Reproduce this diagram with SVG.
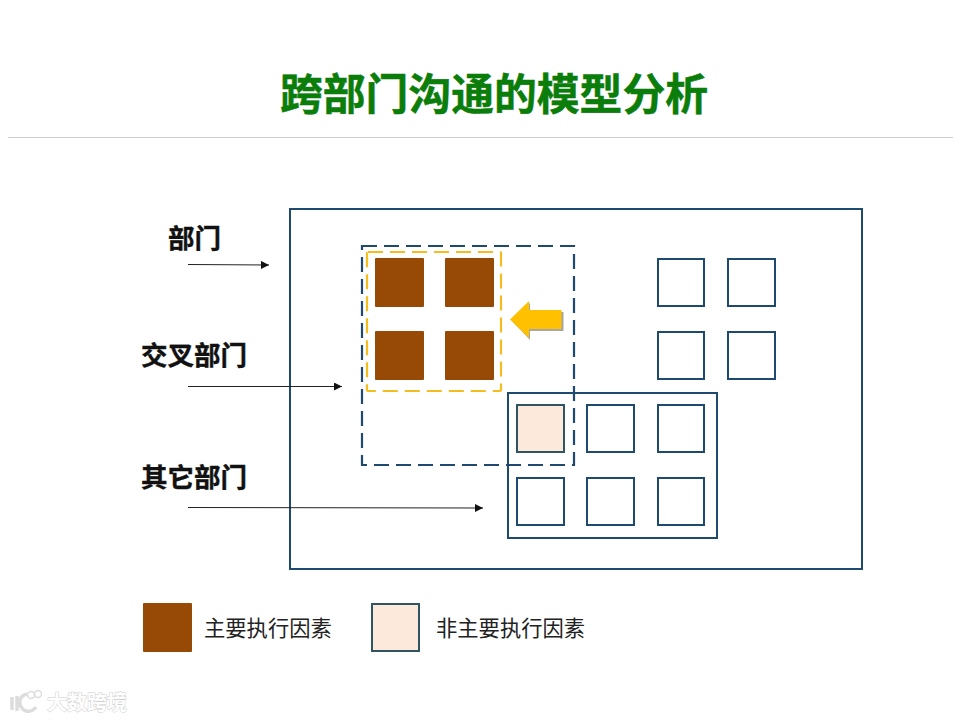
<svg xmlns="http://www.w3.org/2000/svg" width="960" height="720" viewBox="0 0 960 720">
<defs>
<marker id="ah" markerUnits="userSpaceOnUse" markerWidth="9" markerHeight="8" refX="8" refY="4" orient="auto"><path d="M0 0L8 4L0 8Z" fill="#111"/></marker>
</defs>
<style>
text{font-family:"Noto Sans CJK SC","Liberation Sans",sans-serif}
.lbl{font-size:26.500px;font-weight:700;fill:#111;stroke:#111;stroke-width:.4}
.leg{font-size:21.300px;fill:#222}
.box{fill:#fff;stroke:#1F4A70;stroke-width:2}
.main{fill:#974A06}
.minor{fill:#FCE9DB;stroke:#2F5560;stroke-width:2}
.frame{fill:none;stroke:#1F4A70;stroke-width:2}
.conn{fill:none;stroke:#222;stroke-width:1;marker-end:url(#ah)}
</style>
<rect width="960" height="720" fill="#fff"/>
<text id="title" x="494" y="110" text-anchor="middle" font-size="42.800" font-weight="700" fill="#0A7D0A" stroke="#0A7D0A" stroke-width=".5">跨部门沟通的模型分析</text>
<line x1="8" y1="137.500" x2="953" y2="137.500" stroke="#CFCFCF" stroke-width="1"/>

<g id="dept-frame"><rect class="frame" x="290" y="209" width="572" height="360"/></g>

<g id="labels">
<text class="lbl" x="168" y="248">部门</text>
<text class="lbl" x="141" y="365">交叉部门</text>
<text class="lbl" x="141" y="487">其它部门</text>
</g>

<g id="connectors">
<line class="conn" x1="188" y1="264.500" x2="269" y2="265"/>
<line class="conn" x1="188" y1="386.500" x2="342" y2="386.500"/>
<line class="conn" x1="188" y1="507.500" x2="483" y2="508"/>
</g>

<g id="other-dept"><rect class="frame" x="508" y="393" width="209" height="145"/></g>

<g id="main-nodes">
<rect id="m1" class="main" x="375" y="258" width="49" height="49" rx="1"/>
<rect id="m2" class="main" x="445" y="258" width="49" height="49" rx="1"/>
<rect id="m3" class="main" x="375" y="331" width="49" height="49" rx="1"/>
<rect id="m4" class="main" x="445" y="331" width="49" height="49" rx="1"/>
</g>

<g id="upper-nodes">
<rect id="u1" class="box" x="658" y="259" width="46" height="47"/>
<rect id="u2" class="box" x="728" y="259" width="47" height="47"/>
<rect id="u3" class="box" x="658" y="332" width="46" height="47"/>
<rect id="u4" class="box" x="728" y="332" width="47" height="47"/>
</g>

<g id="lower-nodes">
<rect id="l1" class="minor" x="517" y="405" width="47" height="47"/>
<rect id="l2" class="box" x="587" y="405" width="47" height="47"/>
<rect id="l3" class="box" x="658" y="405" width="46" height="47"/>
<rect id="l4" class="box" x="517" y="478" width="47" height="47"/>
<rect id="l5" class="box" x="587" y="478" width="47" height="47"/>
<rect id="l6" class="box" x="658" y="478" width="46" height="47"/>
</g>

<g id="cross-frame"><rect x="362" y="246" width="212" height="219" fill="none" stroke="#1F4A70" stroke-width="2.200" stroke-dasharray="15 7"/></g>
<g id="focus-frame"><rect x="367" y="252" width="134" height="139" rx="1" fill="none" stroke="#F4BC1C" stroke-width="2.200" stroke-dasharray="15 7"/></g>

<g id="arrow">
<path d="M512 321L530 303V312H563.500V331H530V340Z" fill="#A6A6A6"/>
<path d="M510 319.500L529 301V310H561.500V329H529V338Z" fill="#FFC000"/>
</g>

<g id="legend">
<rect class="main" x="143" y="603" width="49" height="49" rx="1"/>
<text class="leg" x="204" y="636">主要执行因素</text>
<rect class="minor" x="372" y="604" width="47" height="47"/>
<text class="leg" x="436" y="636">非主要执行因素</text>
</g>

<g id="watermark">
<path d="M12 697V710M17 696V711M27 694C18 696 17 707 26 711C30 712 34 710 36 707" fill="none" stroke="#DDD" stroke-width="3.500"/>
<circle cx="31" cy="695" r="3.500" fill="none" stroke="#DDD" stroke-width="1.500"/>
<circle cx="38" cy="694" r="3.500" fill="none" stroke="#DDD" stroke-width="1.500"/>
<text x="47" y="710" font-size="20" font-weight="700" fill="#fff" stroke="#CFCFCF" stroke-width="1" paint-order="stroke">大数跨境</text>
</g>
</svg>
